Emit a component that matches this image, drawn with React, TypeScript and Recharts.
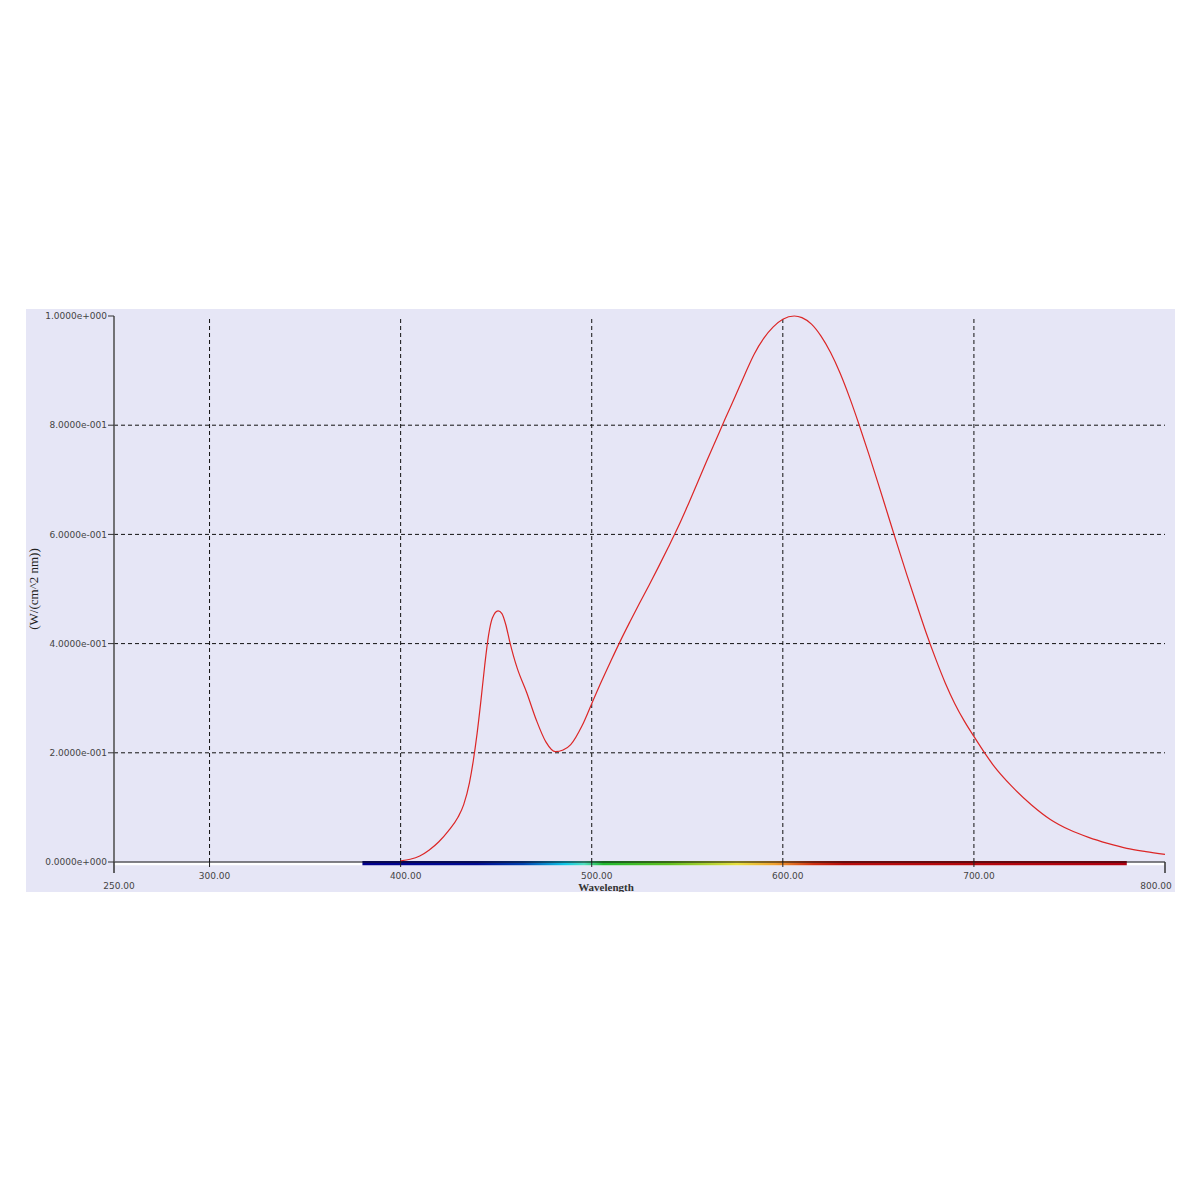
import React from 'react';
import { LineChart, Line, XAxis, YAxis, ReferenceLine, ReferenceArea, Label } from 'recharts';

const wavelengths = [
  400, 405, 410, 415, 420, 425, 430, 433, 436, 438, 440, 442, 444, 446, 448, 451, 453, 455, 457, 459,
  461, 466, 471, 476, 481, 485, 489, 495, 500, 505, 510, 515, 520, 525, 530, 535, 540, 545, 550, 555,
  560, 565, 570, 575, 580, 585, 590, 595, 600, 606, 610, 615, 620, 625, 630, 635, 640, 645, 650, 655,
  660, 665, 670, 675, 680, 685, 690, 695, 700, 705, 710, 720, 730, 740, 750, 760, 770, 780, 790, 800,
];
const irradiance = [
  0.002, 0.005, 0.011, 0.022, 0.037, 0.057, 0.082, 0.105, 0.145, 0.185, 0.235, 0.295, 0.36, 0.415, 0.447, 0.46, 0.455, 0.435, 0.405, 0.378,
  0.355, 0.31, 0.26, 0.22, 0.202, 0.205, 0.215, 0.25, 0.29, 0.33, 0.368, 0.405, 0.44, 0.474, 0.507, 0.541, 0.576, 0.612, 0.651, 0.692,
  0.733, 0.773, 0.813, 0.852, 0.892, 0.93, 0.959, 0.98, 0.994, 1.0, 0.997, 0.985, 0.963, 0.933, 0.895, 0.85, 0.8, 0.747, 0.692, 0.636,
  0.58, 0.525, 0.472, 0.42, 0.372, 0.328, 0.29, 0.258, 0.23, 0.203, 0.178, 0.138, 0.105, 0.078, 0.059, 0.045, 0.034, 0.025, 0.019, 0.014,
];

const xTicks = [250, 300, 400, 500, 600, 700, 800];
const yTicks = [0, 0.2, 0.4, 0.6, 0.8, 1.0];
const gridX = [300, 400, 500, 600, 700];
const gridY = [0.2, 0.4, 0.6, 0.8];

// visible spectrum band under the axis
const spectrumStops = [
  { offset: 0, color: '#00008c' },
  { offset: 0.15, color: '#000a92' },
  { offset: 0.21, color: '#0040b0' },
  { offset: 0.265, color: '#10c8e8' },
  { offset: 0.29, color: '#50e0c0' },
  { offset: 0.315, color: '#20b830' },
  { offset: 0.4, color: '#60c020' },
  { offset: 0.49, color: '#e8e040' },
  { offset: 0.54, color: '#f0a030' },
  { offset: 0.59, color: '#d03012' },
  { offset: 0.63, color: '#b80c0c' },
  { offset: 1, color: '#b00010' },
];

const data = wavelengths.map((w, i) => ({ w, v: irradiance[i] }));

const fmtY = (v: number) => {
  if (v === 0) return '0.0000e+000';
  const e = Math.floor(Math.log10(Math.abs(v)) + 1e-9);
  const m = v / Math.pow(10, e);
  const sign = e < 0 ? '-' : '+';
  return `${m.toFixed(4)}e${sign}${String(Math.abs(e)).padStart(3, '0')}`;
};

const XTick = (props: any) => {
  const { x, y, payload } = props;
  const v = payload.value;
  const isEnd = v === 250 || v === 800;
  const tx = v === 800 ? x - 9 : x + 5;
  return (
    <g>
      <line x1={x} y1={y} x2={x} y2={y + (isEnd ? 11 : 5)} stroke={isEnd ? '#333' : '#222'} strokeWidth={isEnd ? 1.5 : 1} />
      <text x={tx} y={y + (isEnd ? 27 : 17)} textAnchor="middle" fontSize={9} fill="#444" fontFamily="DejaVu Sans">
        {v.toFixed(2)}
      </text>
    </g>
  );
};

export default function App() {
  return (
    <div style={{ position: 'relative', width: 1184, height: 1184 }}>
      <div
        style={{
          position: 'absolute',
          left: 18,
          top: 301,
          width: 1149,
          height: 583,
          background: '#e6e6f6',
          overflow: 'hidden',
        }}
      >
        <LineChart width={1149} height={583} data={data} margin={{ top: 7, right: 10, bottom: 0, left: 8 }}>
          <defs>
            <linearGradient id="spectrum" x1="0" y1="0" x2="1" y2="0">
              {spectrumStops.map((s) => (
                <stop key={s.offset} offset={s.offset} stopColor={s.color} />
              ))}
            </linearGradient>
          </defs>
          <XAxis
            dataKey="w"
            type="number"
            domain={[250, 800]}
            ticks={xTicks}
            interval={0}
            height={30}
            tickSize={0}
            tickMargin={0}
            tickLine={false}
            tick={<XTick />}
            axisLine={{ stroke: '#111', strokeWidth: 1 }}
          >
            <Label
              content={(p: any) => {
                const vb = p.viewBox;
                return (
                  <text
                    x={vb.x + 492}
                    y={vb.y + 28.5}
                    textAnchor="middle"
                    fontSize={11}
                    fontWeight="bold"
                    fill="#333"
                    fontFamily="Liberation Serif"
                  >
                    Wavelength
                  </text>
                );
              }}
            />
          </XAxis>
          <YAxis
            type="number"
            domain={[0, 1]}
            ticks={yTicks}
            interval={0}
            width={80}
            tickSize={6}
            tickMargin={1}
            tickFormatter={fmtY}
            tick={{ fontSize: 9, fill: '#444', fontFamily: 'DejaVu Sans' }}
            tickLine={{ stroke: '#333' }}
            axisLine={{ stroke: '#555', strokeWidth: 1.6 }}
          >
            <Label
              content={(p: any) => {
                const vb = p.viewBox;
                const cx = vb.x - 1;
                const cy = vb.y + vb.height / 2;
                return (
                  <text
                    x={cx}
                    y={cy}
                    transform={`rotate(-90, ${cx}, ${cy})`}
                    textAnchor="middle"
                    dominantBaseline="central"
                    fontSize={13}
                    fill="#222"
                    fontFamily="Liberation Serif"
                  >
                    (W/(cm^2 nm))
                  </text>
                );
              }}
            />
          </YAxis>
          {gridX.map((g) => (
            <ReferenceLine key={`gx${g}`} x={g} stroke="#111" strokeDasharray="4 3" />
          ))}
          {gridY.map((g) => (
            <ReferenceLine key={`gy${g}`} y={g} stroke="#111" strokeDasharray="4 3" />
          ))}
          <ReferenceArea x1={250} x2={800} y1={-0.0058} y2={-0.0008} fill="#ffffff" fillOpacity={1} ifOverflow="visible" />
          <ReferenceArea x1={380} x2={780} y1={-0.0058} y2={0.0018} fill="url(#spectrum)" fillOpacity={1} ifOverflow="visible" />
          <Line
            type="monotone"
            dataKey="v"
            stroke="#dc2626"
            strokeWidth={1.2}
            dot={false}
            isAnimationActive={false}
          />
        </LineChart>
      </div>
    </div>
  );
}
